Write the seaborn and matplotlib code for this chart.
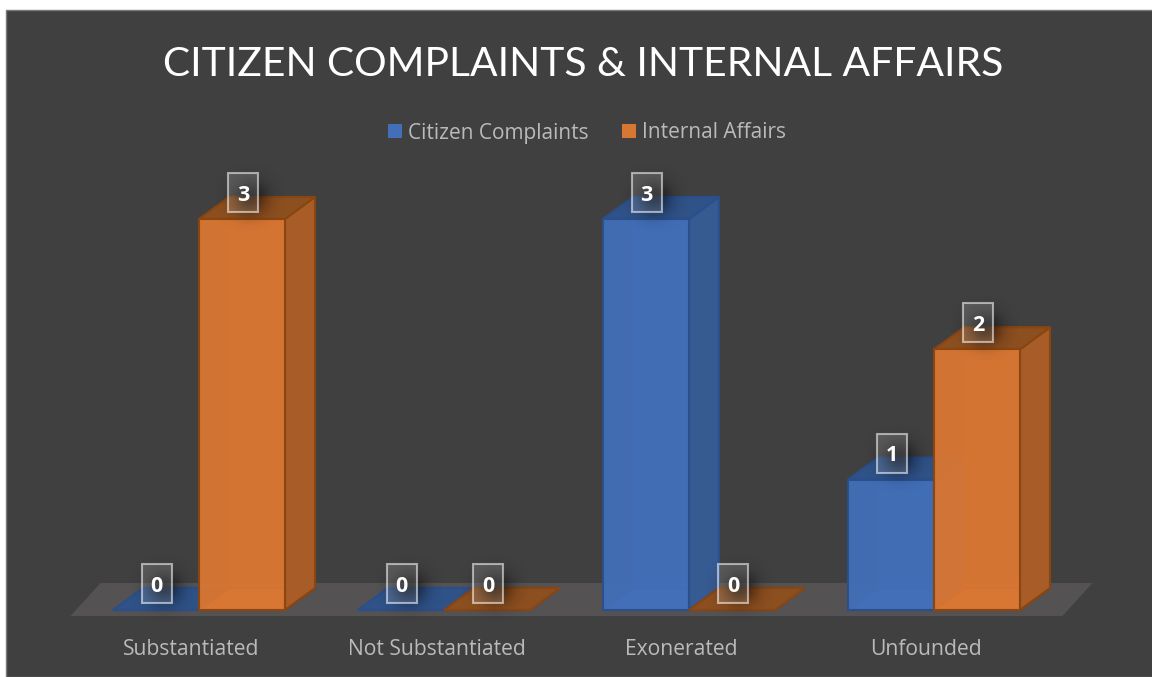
import matplotlib
matplotlib.use("Agg")
import matplotlib.pyplot as plt
import matplotlib.transforms as mtransforms
from matplotlib.patches import Polygon, Rectangle
import numpy as np
import pandas as pd
import seaborn as sns

categories = ["Substantiated", "Not Substantiated", "Exonerated", "Unfounded"]
citizen_complaints = [0, 0, 3, 1]
internal_affairs = [3, 0, 0, 2]
series_names = ["Citizen Complaints", "Internal Affairs"]
title_text = "CITIZEN COMPLAINTS & INTERNAL AFFAIRS"

W, H = 1152, 677
BG = "#404040"
FLOOR = "#545252"
TEXT = "#bababa"

# front, side, top, edge for each series
BLUE = ("#426fb8", "#365a92", "#2f5288", "#2a4f8c")
ORANGE = ("#d87633", "#a85c27", "#8c4f20", "#8a4510")
styles = [BLUE, ORANGE]

sns.set_theme(style="white")
plt.rcParams["font.family"] = ["Open Sans", "DejaVu Sans"]

df = pd.DataFrame({
    "category": categories * 2,
    "series": [series_names[0]] * 4 + [series_names[1]] * 4,
    "value": citizen_complaints + internal_affairs,
})

fig = plt.figure(figsize=(W / 100, H / 100), dpi=100, facecolor="white")
fig.add_artist(Rectangle((6 / W, 0), 1, 1 - 10 / H, transform=fig.transFigure,
                         facecolor=BG, edgecolor="#7a7a7a", linewidth=1, zorder=-5))

# axes box: 0 to 3 runs from pixel row 610 up to 219
ax = fig.add_axes([76.5 / W, (H - 610) / H, 980 / W, 391 / H])
ax.patch.set_alpha(0)

sns.barplot(data=df, x="category", y="value", hue="series", order=categories,
            hue_order=series_names, palette=[BLUE[0], ORANGE[0]],
            width=0.702, gap=0, saturation=1, ax=ax)
ax.set_xlim(-0.5, 3.5)
ax.set_ylim(0, 3)
ax.set_xlabel("")
ax.set_ylabel("")
ax.set_yticks([])
sns.despine(ax=ax, left=True, bottom=True)

# one pixel in data units
px = 4 / 980
py = 3 / 391
dx, dy = 30 * px, 22 * py


def face(points, color, edge, z, alpha=1.0):
    ax.add_patch(Polygon(points, closed=True, facecolor=color, edgecolor=edge,
                         linewidth=1.5, alpha=alpha, zorder=z, clip_on=False))


# floor under the bars
x0 = ax.get_xlim()[0]
x1 = ax.get_xlim()[1]
face([(x0 - 6 * px, -6 * py), (x1 + 6 * px, -6 * py),
      (x1 + 36 * px, 27 * py), (x0 + 24 * px, 27 * py)], FLOOR, "none", 1)

boxes = []
for j, container in enumerate(ax.containers):
    front, side, top, edge = styles[j]
    for i, bar in enumerate(container):
        x = bar.get_x()
        w = bar.get_width()
        h = bar.get_height()
        z = 3 + (i * 2 + j) * 3
        if h > 0:
            # back and floor faces show faintly through the front
            face([(x + dx, dy), (x + w + dx, dy), (x + w + dx, h + dy), (x + dx, h + dy)],
                 front, edge, z, alpha=0.5)
            face([(x, 0), (x + w, 0), (x + w + dx, dy), (x + dx, dy)], front, edge, z)
            face([(x + w, 0), (x + w + dx, dy), (x + w + dx, h + dy), (x + w, h)],
                 side, edge, z + 0.1)
            bar.set_alpha(0.96)
        face([(x, h), (x + w, h), (x + w + dx, h + dy), (x + dx, h + dy)], top, edge, z + 0.1)
        bar.set_edgecolor(edge)
        bar.set_linewidth(1.5)
        bar.set_zorder(z + 0.2)
        bar.set_clip_on(False)
        if h == 0:
            bar.set_visible(False)
        boxes.append((x + w / 2 + (0.5 + j * 0.5) * px, h, int(h), z))

# soft round shadow used behind each label box
gy, gx = np.mgrid[-1:1:60j, -1:1:60j]
blob = np.zeros((60, 60, 4))
blob[..., 3] = 0.6 * np.exp(-(gx ** 2 + gy ** 2) * 4)

for cx, h, value, z in boxes:
    cy = h + 26.5 * py
    ax.imshow(blob, aspect="auto", interpolation="bilinear", zorder=z + 0.3, clip_on=False,
              extent=(cx - 27 * px, cx + 41 * px, cy - 38 * py, cy + 28 * py))
    ax.add_patch(Rectangle((cx - 15 * px, cy - 19.5 * py), 30 * px, 39 * py,
                           facecolor=(1, 1, 1, 0.14), edgecolor=(1, 1, 1, 0.55),
                           linewidth=1.5, zorder=30, clip_on=False))
    ax.text(cx, cy, str(value), color="white", fontsize=15.5, fontweight="bold",
            ha="center", va="center_baseline", zorder=31, clip_on=False)
ax.set_xlim(x0, x1)
ax.set_ylim(0, 3)

# category labels sit a little left of their groups
shift = mtransforms.ScaledTranslation(-7.5 / 100, 0, fig.dpi_scale_trans)
ax.tick_params(axis="x", length=0, pad=21.2, labelsize=15.2, labelcolor=TEXT)
for label in ax.get_xticklabels():
    label.set_transform(label.get_transform() + shift)

handles, labels = ax.get_legend_handles_labels()
for handle in handles:
    handle.set_edgecolor("none")
leg = fig.legend(handles, labels, loc="center", bbox_to_anchor=(587 / W, 1 - 133 / H),
                 ncol=2, frameon=False, fontsize=15, labelcolor=TEXT,
                 handlelength=0.65, handleheight=0.65, handletextpad=0.3, columnspacing=1.6)
ax.get_legend().remove()

fig.text(583 / W, 1 - 64 / H, title_text, family=["Lato", "DejaVu Sans"], color="white",
         fontsize=29.3, ha="center", va="center")

fig.savefig("out.png", dpi=100, facecolor=fig.get_facecolor())
